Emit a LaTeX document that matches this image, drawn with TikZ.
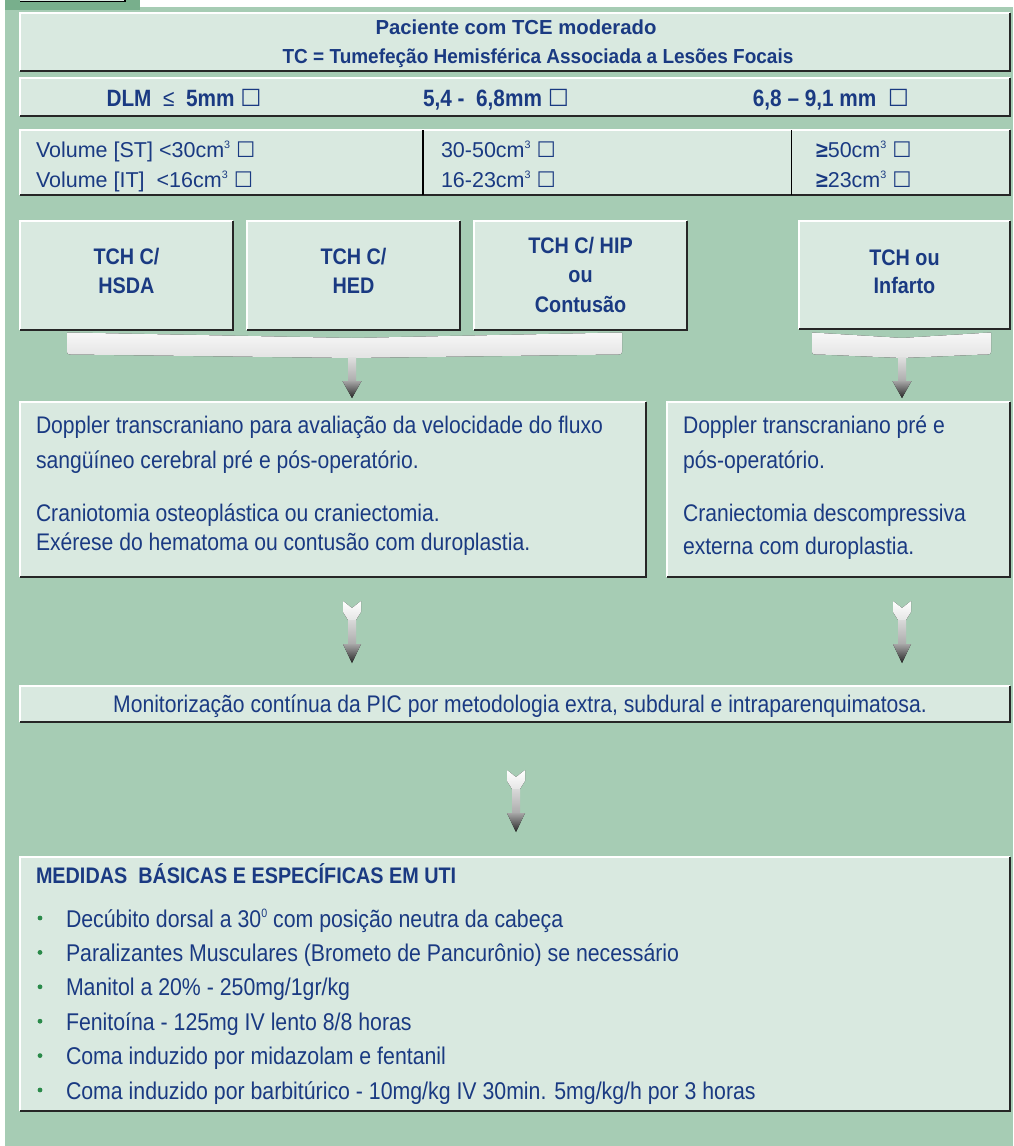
\documentclass[tikz,border=0pt]{standalone}
\usepackage{fontspec}
\setmainfont{Liberation Sans}[FakeStretch=0.88]
\newfontfamily\widef{Liberation Sans}
\newfontfamily\midf{Liberation Sans}[FakeStretch=0.935]
\newfontfamily\symf{DejaVu Sans}
\usetikzlibrary{shadings}
\definecolor{bggreen}{HTML}{A6CCB4}
\definecolor{tabgreen}{HTML}{78AF8C}
\definecolor{boxfill}{HTML}{D9E9E0}
\definecolor{txtblue}{HTML}{1A3A82}
\definecolor{dotgreen}{HTML}{2A8A4A}
\newcommand\cbx{{\symf\mdseries\char"2610}}
\newcommand\sups[1]{\raisebox{0.40em}{\scalebox{0.5}{#1}}}
\newcommand\mkpanel[5]{%
  \node[panelbox, minimum width={(#4-#2)*1pt}, minimum height={(#5-#3)*1pt}, anchor=north west] (#1) at (#2,#3) {};
  \draw[white, line width=1.4pt] (#1.south west) -- (#1.north west) -- (#1.north east);
  \draw[black!85, line width=1.6pt] (#1.north east) -- (#1.south east) -- (#1.south west);
}
\newcommand\myfletch[2]{% center x, top y
  \fill[top color=white, bottom color=gray!20] (#1-9,#2) -- (#1,#2+7) -- (#1+9,#2) -- (#1+9,#2+11) -- (#1+4,#2+19) -- (#1-4,#2+19) -- (#1-9,#2+11) -- cycle;
  \fill[top color=gray!30, bottom color=gray!65] (#1-4,#2+19) rectangle (#1+4,#2+43);
  \fill[top color=gray!70, bottom color=black!85] (#1-9,#2+43) -- (#1+9,#2+43) -- (#1,#2+62) -- cycle;
}
\newcommand\mystem[3]{% center x, top y, head y
  \fill[top color=gray!25, bottom color=gray!65] (#1-4,#2) rectangle (#1+4,#3);
  \fill[top color=gray!70, bottom color=black!85] (#1-9.5,#3) -- (#1+9.5,#3) -- (#1,#3+17) -- cycle;
}
\newcommand\mybrace[3]{% x1, x2, notch x
  \fill[top color=gray!6, bottom color=gray!22]
    (#1,332.5) -- (#3,338) -- (#2,332.5) -- (#2,352) to[out=-90,in=0] (#2-8,354.5) -- (#3,358) -- (#1+8,354.5) to[out=180,in=-90] (#1,352) -- cycle;
}
\begin{document}
\begin{tikzpicture}[x=1pt,y=-1pt,
  every node/.style={inner sep=0pt, outer sep=0pt, text=txtblue},
  panelbox/.style={fill=boxfill, draw=none, rectangle},
  hb/.style={font=\widef\fontsize{20.3}{25}\selectfont\bfseries},
  db/.style={font=\fontsize{23.6}{26}\selectfont\bfseries},
  vt/.style={font=\widef\fontsize{21.5}{24}\selectfont},
  tb/.style={font=\fontsize{22.5}{27}\selectfont\bfseries},
  bt/.style={font=\fontsize{24}{28}\selectfont},
  lt/.style={font=\fontsize{24.2}{28}\selectfont}]
\useasboundingbox (0,0) rectangle (1013,1146);
% background
\fill[bggreen] (5,7) rectangle (1013,1146);
\fill[tabgreen] (5,0) rectangle (140,10);
\fill[boxfill] (20,-3) rectangle (125,1.5);
\draw[black, line width=1.4pt] (20,1.5) -- (125,1.5) -- (125,-3);
% header
\mkpanel{hdr}{20}{13}{1010}{71}
\node[hb, anchor=base] (h1) at (516,34) {Paciente com TCE moderado};
\node[anchor=base, font=\midf\fontsize{20.3}{25}\selectfont\bfseries] (h2) at (538,63) {TC = Tumefeção Hemisférica Associada a Lesões Focais};
% DLM
\mkpanel{dlm}{20}{78}{1010}{116}
\node[db, anchor=base] (d1) at (184,106) {DLM\ \ {\mdseries ≤}\ \ 5mm \cbx};
\node[db, anchor=base] (d2) at (496,106) {5,4 -\ \ 6,8mm \cbx};
\node[db, anchor=base] (d3) at (831,106) {6,8 – 9,1 mm\ \ \cbx};
% volume
\mkpanel{vol}{20}{130}{1010}{195}
\draw[black, line width=1.8pt] (423,130) -- (423,195);
\draw[black, line width=1.8pt] (791.5,130) -- (791.5,195);
\node[vt, anchor=base west] (v1) at (36,157) {Volume [ST] <30cm\sups{3} \cbx};
\node[vt, anchor=base west] (v2) at (36,187) {Volume [IT]\ \ <16cm\sups{3} \cbx};
\node[vt, anchor=base west] (v3) at (441,157) {30-50cm\sups{3} \cbx};
\node[vt, anchor=base west] (v4) at (441,187) {16-23cm\sups{3} \cbx};
\node[vt, anchor=base west] (v5) at (816,157) {\textbf{≥}50cm\sups{3} \cbx};
\node[vt, anchor=base west] (v6) at (816,187) {\textbf{≥}23cm\sups{3} \cbx};
% TCH boxes
\mkpanel{t1}{20}{221}{233}{330}
\mkpanel{t2}{247}{221}{460}{330}
\mkpanel{t3}{474}{221}{687}{330}
\mkpanel{t4}{799}{221}{1010}{329}
\node[tb, anchor=base] (t1a) at (126.5,264) {TCH C/};
\node[tb, anchor=base] (t1b) at (126.5,293) {HSDA};
\node[tb, anchor=base] (t2a) at (353.5,264) {TCH C/};
\node[tb, anchor=base] (t2b) at (353.5,293) {HED};
\node[tb, anchor=base] (t3a) at (580.5,253) {TCH C/ HIP};
\node[tb, anchor=base] (t3b) at (580.5,282) {ou};
\node[tb, anchor=base] (t3c) at (580.5,312) {Contusão};
\node[tb, anchor=base] (t4a) at (904.5,265) {TCH ou};
\node[tb, anchor=base] (t4b) at (904.5,293) {Infarto};
% braces and arrows
\mybrace{67}{622}{352}
\mybrace{812}{991}{902}
\mystem{352}{357}{381}
\mystem{902}{357}{381}
% Doppler boxes
\mkpanel{dl}{20}{402}{646}{577}
\mkpanel{dr}{667}{402}{1010}{577}
\node[bt, anchor=base west] (dl1) at (36,433) {Doppler transcraniano para avaliação da velocidade do fluxo};
\node[bt, anchor=base west] (dl2) at (36,468) {sangüíneo cerebral pré e pós-operatório.};
\node[bt, anchor=base west] (dl3) at (36,521) {Craniotomia osteoplástica ou craniectomia.};
\node[bt, anchor=base west] (dl4) at (36,550) {Exérese do hematoma ou contusão com duroplastia.};
\node[bt, anchor=base west] (dr1) at (683,433) {Doppler transcraniano pré e};
\node[bt, anchor=base west] (dr2) at (683,468) {pós-operatório.};
\node[bt, anchor=base west] (dr3) at (683,521) {Craniectomia descompressiva};
\node[bt, anchor=base west] (dr4) at (683,554) {externa com duroplastia.};
% arrows to monitor
\myfletch{352}{601}
\myfletch{902}{601}
% monitor
\mkpanel{mon}{20}{686}{1010}{722}
\node[bt, anchor=base] (m1) at (520,712) {Monitorização contínua da PIC por metodologia extra, subdural e intraparenquimatosa.};
\myfletch{516}{770}
% medidas
\mkpanel{med}{20}{857}{1010}{1111}
\node[anchor=base west, font=\fontsize{22.5}{27}\selectfont\bfseries] (mh) at (36,883) {MEDIDAS\ \ BÁSICAS E ESPECÍFICAS EM UTI};
\foreach \y/\txt [count=\i] in {927/{Decúbito dorsal a 30\sups{0} com posição neutra da cabeça},
  961.4/{Paralizantes Musculares (Brometo de Pancurônio) se necessário},
  995.8/{Manitol a 20\% - 250mg/1gr/kg},
  1030.2/{Fenitoína - 125mg IV lento 8/8 horas},
  1064.6/{Coma induzido por midazolam e fentanil},
  1099/{Coma induzido por barbitúrico - 10mg/kg IV 30min. 5mg/kg/h por 3 horas}}{
  \fill[dotgreen] (40,\y-9) circle (2.4);
  \node[lt, anchor=base west] (b\i) at (66,\y) {\txt};
}
\end{tikzpicture}
\end{document}
